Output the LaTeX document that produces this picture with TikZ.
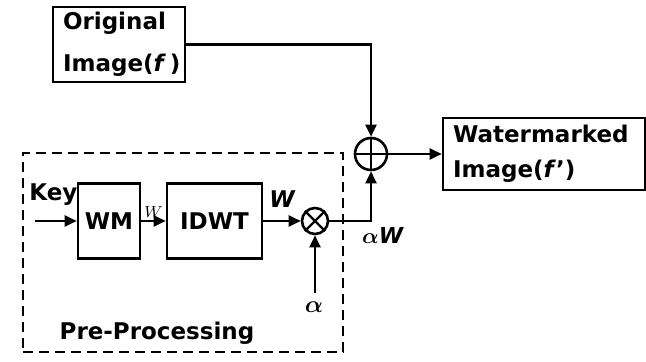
\documentclass[tikz,border=0pt]{standalone}
\usepackage{bm}
\usepackage{fontspec}
\setmainfont{DejaVu Sans}
\usetikzlibrary{arrows.meta, positioning, calc}

\begin{document}
\begin{tikzpicture}[x=0.5pt, y=-0.5pt,
  blk/.style={rectangle, draw, line width=1.3pt, minimum height=37.5pt,
    inner ysep=1pt, font=\fontsize{11.5}{13}\selectfont\bfseries,
    align=center},
  sumop/.style={circle, draw, line width=1.3pt, minimum size=16pt,
    inner sep=0pt},
  dashbox/.style={draw, dash pattern=on 5pt off 3pt, line width=1.2pt,
    inner sep=0pt},
  lbl/.style={font=\fontsize{11.5}{13}\selectfont\bfseries},
  ar/.style={-{Triangle[length=6pt,width=5.5pt]}, line width=1.2pt}
]
  \useasboundingbox (0,0) rectangle (646,362);
  \node[blk, minimum width=66pt, text width=56pt, align=left,
    font=\fontsize{11.5}{21}\selectfont\bfseries] (orig) at (119,44.5)
    {Original\\Image(\textit{f}\,)};
  \node[sumop] (sum) at (371,154) {};
  \node[blk, minimum width=101pt, minimum height=36pt, text width=91pt,
    align=left, font=\fontsize{11.5}{17.5}\selectfont\bfseries] (wmk)
    at (544,154) {Watermarked\\Image(\textit{f}')};
  \node[dashbox, minimum width=160pt, minimum height=99.5pt] (pp)
    at (183,252.5) {};
  \node[blk, minimum width=31pt] (wm) at (109,221) {WM};
  \node[blk, minimum width=47.5pt] (idwt) at (214.5,221) {IDWT};
  \node[sumop, minimum size=13pt] (mul) at (315,221) {};
  \node[lbl, anchor=west, inner sep=0pt] (key) at (29,195) {Key};
  \coordinate (keyin) at (35,221);
  \coordinate (ain) at (315,293);
  \node[font=\fontsize{13}{14}\selectfont] (alab) at (314,307)
    {$\bm{\alpha}$};
  \node[font=\fontsize{11}{13}\selectfont] (awlab) at (383,235)
    {$\bm{\alpha}$\textbf{\textit{W}}};
  \node[lbl] (pplab) at (157,333) {Pre-Processing};
  % Arrows
  \draw[ar] (orig) -- (orig -| sum) -- (sum);
  \draw[ar] (sum) -- (wmk);
  \draw[ar] (keyin) -- (wm);
  \draw[ar] (wm) -- node[above, inner sep=1pt,
    font=\fontsize{8}{9}\selectfont] {$W$} (idwt);
  \draw[ar] (idwt) -- node[above=3pt,
    font=\fontsize{11.5}{13}\selectfont\bfseries\itshape] {W} (mul);
  \draw[ar] (mul) -- (mul -| sum) -- (sum);
  \draw[ar] (ain) -- (mul);
  % operator marks
  \draw[line width=1.2pt] (sum.north) -- (sum.south)
    (sum.west) -- (sum.east);
  \draw[line width=1.2pt] (mul.north west) -- (mul.south east)
    (mul.north east) -- (mul.south west);
\end{tikzpicture}
\end{document}
